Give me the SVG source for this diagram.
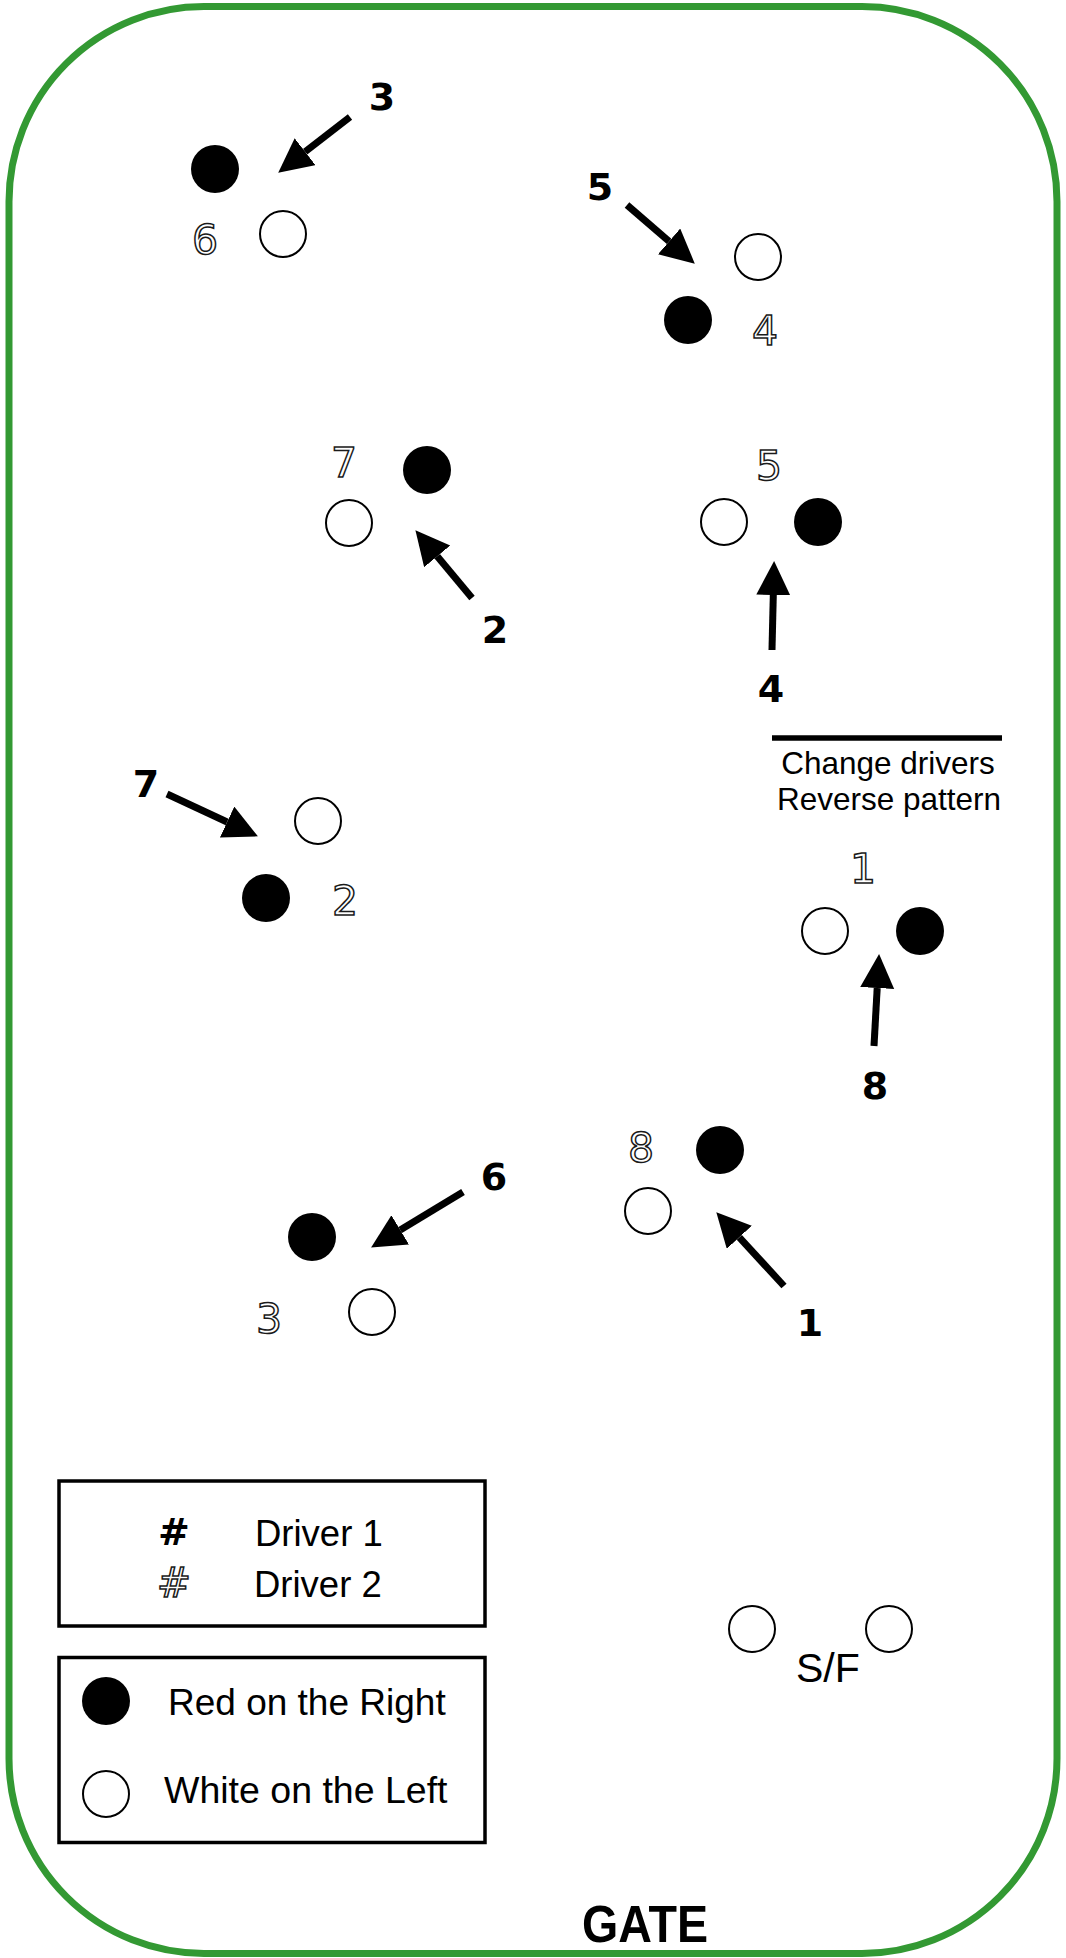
<svg xmlns="http://www.w3.org/2000/svg" width="1066" height="1958" viewBox="0 0 1066 1958">
<defs>
<marker id="ah" markerUnits="userSpaceOnUse" markerWidth="40" markerHeight="40" refX="0" refY="17" orient="auto">
<path d="M0,0 L34,17 L0,34 z" fill="#000"/>
</marker>
<style>
.red{fill:#000;}
.wht{fill:#fff;stroke:#000;stroke-width:2;}
.arr{stroke:#000;stroke-width:7;fill:none;marker-end:url(#ah);}
.lbl{font-family:"DejaVu Sans",sans-serif;font-weight:bold;font-size:38px;fill:#000;text-anchor:middle;}
.out{font-family:"DejaVu Sans",sans-serif;font-size:41px;fill:#fff;stroke:#1a1a1a;stroke-width:1.5;text-anchor:middle;}
.txt{font-family:"Liberation Sans",Arial,sans-serif;fill:#000;}
.box{fill:none;stroke:#000;stroke-width:3.5;}
</style>
</defs>
<rect x="0" y="0" width="1066" height="1958" fill="#fff"/>
<rect id="field" x="9" y="6.5" width="1048" height="1947" rx="195" ry="195" fill="none" stroke="#339933" stroke-width="7"/>

<g id="connectors">
<line class="arr" x1="350" y1="117" x2="305.1" y2="151.8"/>
<line class="arr" x1="627" y1="205" x2="669.1" y2="241.4"/>
<line class="arr" x1="472" y1="598" x2="437.2" y2="556.3"/>
<line class="arr" x1="772" y1="650" x2="773.3" y2="595"/>
<line class="arr" x1="167" y1="794" x2="227.1" y2="822"/>
<line class="arr" x1="874" y1="1046" x2="877.2" y2="988"/>
<line class="arr" x1="784" y1="1286" x2="739.3" y2="1237.3"/>
<line class="arr" x1="463" y1="1192" x2="400.2" y2="1229.9"/>
</g>

<g id="gate1">
<circle class="red" cx="215" cy="169" r="24"/>
<circle class="wht" cx="283" cy="234" r="23"/>
<text class="out" x="205" y="254">6</text>
<text class="lbl" x="382" y="110">3</text>
</g>

<g id="gate2">
<circle class="wht" cx="758" cy="257" r="23"/>
<circle class="red" cx="688" cy="320" r="24"/>
<text class="out" x="765" y="345">4</text>
<text class="lbl" x="600" y="200">5</text>
</g>

<g id="gate3">
<circle class="red" cx="427" cy="470" r="24"/>
<circle class="wht" cx="349" cy="523" r="23"/>
<text class="out" x="344" y="477">7</text>
<text class="lbl" x="495" y="643">2</text>
</g>

<g id="gate4">
<circle class="wht" cx="724" cy="522" r="23"/>
<circle class="red" cx="818" cy="522" r="24"/>
<text class="out" x="769" y="480">5</text>
<text class="lbl" x="771" y="702">4</text>
</g>

<g id="change">
<line x1="772" y1="738" x2="1002" y2="738" stroke="#000" stroke-width="5.5"/>
<text class="txt" x="888" y="774" font-size="31.5" text-anchor="middle">Change drivers</text>
<text class="txt" x="889" y="810" font-size="31.5" text-anchor="middle">Reverse pattern</text>
</g>

<g id="gate5">
<circle class="wht" cx="318" cy="821" r="23"/>
<circle class="red" cx="266" cy="898" r="24"/>
<text class="out" x="345" y="915">2</text>
<text class="lbl" x="146" y="797">7</text>
</g>

<g id="gate6">
<circle class="wht" cx="825" cy="931" r="23"/>
<circle class="red" cx="920" cy="931" r="24"/>
<text class="out" x="863" y="883">1</text>
<text class="lbl" x="875" y="1099">8</text>
</g>

<g id="gate7">
<circle class="red" cx="720" cy="1150" r="24"/>
<circle class="wht" cx="648" cy="1211" r="23"/>
<text class="out" x="641" y="1162">8</text>
<text class="lbl" x="810" y="1336">1</text>
</g>

<g id="gate8">
<circle class="red" cx="312" cy="1237" r="24"/>
<circle class="wht" cx="372" cy="1312" r="23"/>
<text class="out" x="269" y="1333">3</text>
<text class="lbl" x="494" y="1190">6</text>
</g>

<g id="startfinish">
<circle class="wht" cx="752" cy="1629" r="23"/>
<circle class="wht" cx="889" cy="1629" r="23"/>
<text class="txt" x="796" y="1682" font-size="41">S/F</text>
</g>

<g id="legend-drivers">
<rect class="box" x="59" y="1481" width="426" height="145"/>
<text class="lbl" x="174" y="1545" font-size="34">#</text>
<text class="txt" x="255" y="1546" font-size="36.5">Driver 1</text>
<text class="out" x="174" y="1597" font-size="34" stroke-width="1.2">#</text>
<text class="txt" x="254" y="1597" font-size="36.5">Driver 2</text>
</g>

<g id="legend-cones">
<rect class="box" x="59" y="1657.5" width="426" height="185"/>
<circle class="red" cx="106" cy="1701" r="24"/>
<text class="txt" x="168" y="1715" font-size="37">Red on the Right</text>
<circle class="wht" cx="106" cy="1794" r="23"/>
<text class="txt" x="164" y="1803" font-size="37.5">White on the Left</text>
</g>

<g id="gate-label">
<text class="txt" x="645" y="1942" font-size="52" font-weight="bold" text-anchor="middle" textLength="126" lengthAdjust="spacingAndGlyphs">GATE</text>
</g>
</svg>
